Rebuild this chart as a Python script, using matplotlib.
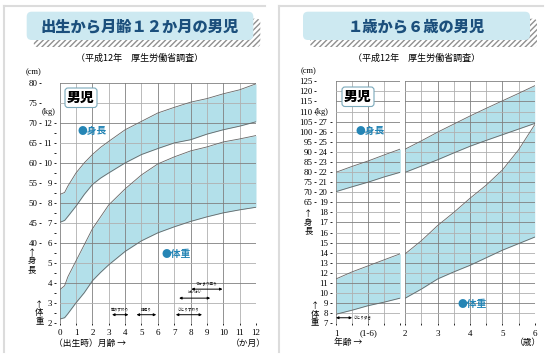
import matplotlib
matplotlib.use('Agg')
import matplotlib.pyplot as plt
from matplotlib.patches import FancyBboxPatch

plt.rcParams['font.family'] = ['Noto Sans CJK JP', 'DejaVu Sans']

# 出生から12か月 (月齢)
months = [0, 0.3, 0.5, 1, 1.5, 2, 2.5, 3, 4, 5, 6, 7, 8, 9, 10, 11, 12]
height_hi_L = [52.1, 52.6, 54.2, 57.5, 60.0, 62.1, 63.9, 65.4, 68.3, 70.4, 72.5, 73.9, 75.2, 76.1, 77.3, 78.3, 79.8]
height_lo_L = [45.1, 45.6, 46.6, 49.2, 52.1, 54.6, 56.2, 57.5, 60.0, 62.1, 63.6, 65.0, 65.8, 67.2, 68.3, 69.2, 70.3]
weight_hi_L = [3.65, 3.85, 4.3, 5.1, 5.9, 6.7, 7.3, 7.9, 8.7, 9.4, 9.95, 10.3, 10.6, 10.8, 11.05, 11.2, 11.37]
weight_lo_L = [2.18, 2.25, 2.45, 3.0, 3.5, 4.1, 4.52, 4.9, 5.57, 6.1, 6.5, 6.8, 7.07, 7.3, 7.5, 7.65, 7.78]

ms_names_L = ['首のすわり', '寝返り', 'ひとりすわり', 'はいはい', 'つかまり立ち']
ms_start_L = [3.2, 4.7, 7.1, 7.3, 8.05]
ms_end_L = [4.2, 5.9, 8.7, 9.2, 9.95]
ms_kg_L = [2.4, 2.4, 2.4, 3.23, 3.68]

# 1歳から6歳 (年齢)
ages1 = [1, 1.25, 1.5, 1.75, 2]
height_hi_R1 = [79.9, 82.8, 85.5, 88.5, 91.4]
height_lo_R1 = [70.3, 72.7, 75.0, 77.6, 79.9]
weight_hi_R1 = [11.4, 12.1, 12.7, 13.3, 13.9]
weight_lo_R1 = [7.9, 8.3, 8.75, 9.1, 9.5]

ages2 = [2, 2.5, 3, 3.5, 4, 4.5, 5, 5.5, 6]
height_hi_R2 = [91.4, 95.5, 99.8, 103.8, 107.8, 111.6, 115.3, 119.0, 122.8]
height_lo_R2 = [79.9, 83.0, 86.1, 89.5, 92.8, 95.7, 98.5, 101.3, 104.1]
weight_hi_R2 = [13.9, 15.2, 16.7, 18.0, 19.4, 20.7, 22.2, 24.2, 26.7]
weight_lo_R2 = [9.5, 10.4, 11.4, 12.1, 12.75, 13.5, 14.25, 14.9, 15.55]

ms_names_R = ['ひとり歩き']
ms_start_R = [1.0]
ms_end_R = [1.25]
ms_kg_R = [7.55]

W, H = 549, 357
BAND = '#b3e0ea'
EDGE = '#666666'
DARK = '#808080'
LIGHT = '#b0b0b0'
BLUE = '#2585b5'
NAVY = '#1b4f7c'
SERIF = 'Liberation Serif'

fig = plt.figure(figsize=(W / 100, H / 100), dpi=100)


def px_axes(x0, y0, x1, y1):
    return fig.add_axes([x0 / W, 1 - y1 / H, (x1 - x0) / W, (y1 - y0) / H])


# 左: 身長 cm 目盛りに体重を kg = (cm-10)/5 で重ねる
def kg2cm_L(kg):
    return 5 * kg + 10


def cm2kg_L(cm):
    return (cm - 10) / 5


# 右: kg = (cm+30)/5
def kg2cm_R(kg):
    return 5 * kg - 30


def cm2kg_R(cm):
    return (cm + 30) / 5


def style_axes(ax, xs, dark_xs, ylo, yhi):
    for s in ax.spines.values():
        s.set_visible(False)
    ax.set_yticks([])
    for x in xs:
        ax.axvline(x, color=DARK if x in dark_xs else LIGHT, lw=0.6, zorder=2)
    y = ylo
    i = 0
    while y <= yhi:
        ax.axhline(y, color=DARK if i % 2 == 0 else LIGHT, lw=0.6, zorder=2)
        y += 5
        i += 1
    ax.tick_params(axis='x', direction='out', length=1.5, width=0.6, pad=3,
                   labelsize=6.5, labelfontfamily=SERIF)


def band(ax, x, lo, hi):
    ax.fill_between(x, lo, hi, color=BAND, lw=0, zorder=1)
    ax.plot(x, lo, color=EDGE, lw=0.6, zorder=3)
    ax.plot(x, hi, color=EDGE, lw=0.6, zorder=3)


def milestones(ax, names, starts, ends, ys, conv, label_right=False):
    for name, a, b, kg in zip(names, starts, ends, ys):
        y = conv(kg)
        ax.annotate('', xy=(b, y), xytext=(a, y),
                    arrowprops=dict(arrowstyle='<|-|>', lw=0.7, color='black',
                                    mutation_scale=3.5, shrinkA=0, shrinkB=0), zorder=4)
        if label_right:
            ax.text(b + 0.03, y, name, fontsize=2.6, ha='left', va='center', zorder=4)
        else:
            ax.text((a + b) / 2, y + 0.9, name, fontsize=2.6, ha='center', va='bottom', zorder=4)


def sec_axis(ax, loc, funcs, major, minor=None):
    sec = ax.secondary_yaxis(loc, functions=funcs)
    for s in sec.spines.values():
        s.set_visible(False)
    sec.set_yticks(major)
    if minor is not None:
        sec.set_yticks(minor, minor=True)
    sec.tick_params(which='both', direction='out', length=1.5, width=0.6, pad=1.2,
                    labelsize=6.3, labelfontfamily=SERIF)
    return sec


# ---- 左の図 ----
axL = px_axes(59.7, 83, 256, 322.7)
axL.set_xlim(0, 12)
axL.set_ylim(20, 80)
style_axes(axL, list(range(13)), list(range(0, 13, 2)), 20, 80)
axL.set_xticks(range(13))
band(axL, months, height_lo_L, height_hi_L)
band(axL, months, [kg2cm_L(v) for v in weight_lo_L], [kg2cm_L(v) for v in weight_hi_L])
milestones(axL, ms_names_L, ms_start_L, ms_end_L, ms_kg_L, kg2cm_L)
sec_axis(axL, (41 - 59.7) / 196.3, (lambda v: v, lambda v: v), list(range(40, 81, 5)))
sec_axis(axL, (55.5 - 59.7) / 196.3, (cm2kg_L, kg2cm_L), list(range(2, 13)),
         [k + 0.5 for k in range(2, 12)])

# ---- 右の図 (1〜2歳 / 2〜6歳) ----
axR1 = px_axes(336, 81.3, 400.3, 323.3)
axR1.set_xlim(1, 2)
axR1.set_ylim(5, 125)
style_axes(axR1, ages1, [1, 1.5, 2], 5, 125)
axR1.set_xticks(ages1)
axR1.set_xticklabels(['1', '', '(1-6)', '', ''])
band(axR1, ages1, height_lo_R1, height_hi_R1)
band(axR1, ages1, [kg2cm_R(v) for v in weight_lo_R1], [kg2cm_R(v) for v in weight_hi_R1])
milestones(axR1, ms_names_R, ms_start_R, ms_end_R, ms_kg_R, kg2cm_R, label_right=True)
sec_axis(axR1, (316 - 336) / 64.3, (lambda v: v, lambda v: v), list(range(65, 126, 5)))
sec_axis(axR1, (331.5 - 336) / 64.3, (cm2kg_R, kg2cm_R), list(range(7, 28)))

axR2 = px_axes(405.3, 81.3, 534.7, 323.3)
axR2.set_xlim(2, 6)
axR2.set_ylim(5, 125)
style_axes(axR2, ages2, [2, 3, 4, 5, 6], 5, 125)
axR2.set_xticks(ages2)
axR2.set_xticklabels(['2', '', '3', '', '4', '', '5', '', '6'])
band(axR2, ages2, height_lo_R2, height_hi_R2)
band(axR2, ages2, [kg2cm_R(v) for v in weight_lo_R2], [kg2cm_R(v) for v in weight_hi_R2])

# ---- 飾り・文字 (ピクセル座標の重ね軸) ----
fg = fig.add_axes([0, 0, 1, 1], zorder=10)
fg.set_xlim(0, W)
fg.set_ylim(H, 0)
fg.axis('off')
fg.patch.set_visible(False)

for bx in (3.5, 279):
    fg.plot([bx, bx], [6, 352], color='#dcdcdc', lw=1.5)
fg.plot([3.5, 265], [6, 6], color='#dcdcdc', lw=1.5)
fg.plot([279, 543], [6, 6], color='#dcdcdc', lw=1.5)

titles = ['出生から月齢１２か月の男児', '１歳から６歳の男児']
for (x0, x1), title in zip([(26.7, 253.3), (303, 530)], titles):
    shadow = FancyBboxPatch((x0 + 7, 18.7), x1 - x0, 28.3,
                            boxstyle='round,pad=0,rounding_size=4',
                            facecolor='white', edgecolor='#909090', lw=0, hatch='//////')
    fg.add_patch(shadow)
    fg.add_patch(FancyBboxPatch((x0, 11.7), x1 - x0, 28.3,
                                boxstyle='round,pad=0,rounding_size=5',
                                facecolor='#cde9f1', edgecolor='none'))
    cx = (x0 + x1) / 2
    fg.text(cx, 26.5, title, fontsize=11, fontweight='black', color=NAVY,
            ha='center', va='center')
    fg.text(cx, 58, '（平成12年　厚生労働省調査）', fontsize=6.5, ha='center', va='center')

for x0, y0 in [(65, 88), (342, 87)]:
    fg.add_patch(FancyBboxPatch((x0, y0), 32, 19.5, boxstyle='round,pad=0,rounding_size=3',
                                facecolor='white', edgecolor='#7aa9bb', lw=0.8))
    fg.text(x0 + 16, y0 + 10, '男児', fontsize=10, fontweight='black', ha='center', va='center')

for x, y, s in [(78, 131, '●身長'), (356, 131, '●身長'), (162, 254, '●体重'), (457, 304, '●体重')]:
    fg.text(x, y, s, fontsize=7, color=BLUE, ha='left', va='center', fontweight='bold')

for x, y in [(33, 72), (308.3, 71)]:
    fg.text(x, y, '(cm)', fontsize=6, family=SERIF, ha='center', va='center')
for x, y in [(48.3, 111.7), (321.7, 111.7)]:
    fg.text(x, y, '(kg)', fontsize=6, family=SERIF, ha='center', va='center')

for x, y in [(32, 261), (308.3, 222)]:
    fg.text(x, y, '↑\n身\n長', fontsize=6, ha='center', va='center', linespacing=0.95)
for x, y in [(39.3, 313), (315, 314)]:
    fg.text(x, y, '↑\n体\n重', fontsize=6, ha='center', va='center', linespacing=0.95)

fg.text(54, 343, '（出生時）月齢 →', fontsize=6.3, ha='left', va='center')
fg.text(248, 343, '（か月）', fontsize=6.3, ha='center', va='center')
fg.text(334, 343, '年齢 →', fontsize=6.3, ha='left', va='center')
fg.text(528, 343, '（歳）', fontsize=6.3, ha='center', va='center')

fig.savefig('out.png', dpi=100)
